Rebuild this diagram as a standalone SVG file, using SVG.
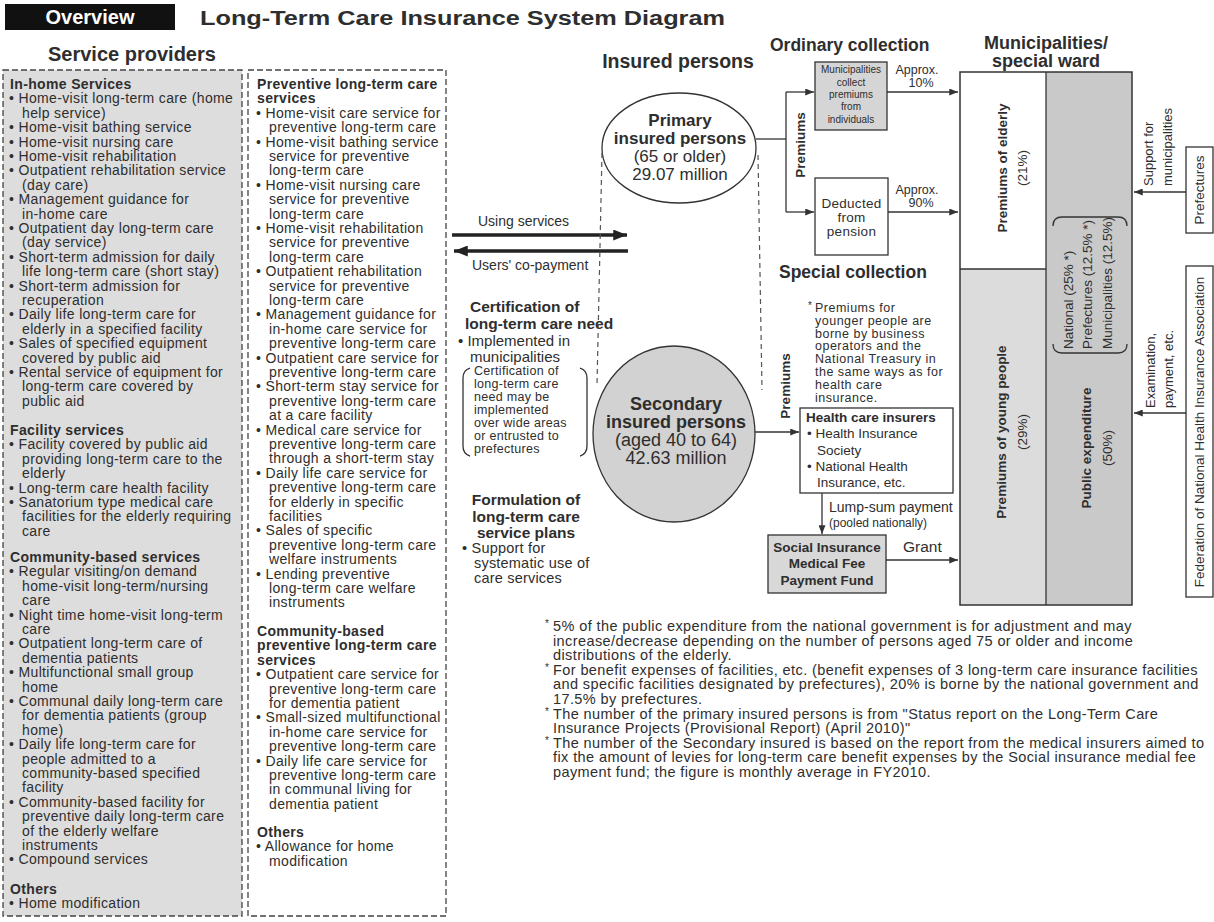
<svg xmlns="http://www.w3.org/2000/svg" width="1214" height="922" viewBox="0 0 1214 922">
<style>
text{font-family:"Liberation Sans",Arial,Helvetica,sans-serif;fill:#2e2e2e}
.b{font-weight:bold}
.f10{font-size:10px}.f12{font-size:12px}.f125{font-size:12.5px}.f13{font-size:13px}.f135{font-size:13.5px}.f14{font-size:14px}.f15{font-size:15px}.f155{font-size:15.5px}.f17{font-size:17px}.f175{font-size:17.5px}.f18{font-size:18px}.f20{font-size:20px}
.lst{font-size:14px;letter-spacing:0.35px}
.fn{font-size:14.5px;letter-spacing:0.4px}
.m{text-anchor:middle}
.ln{stroke:#333;stroke-width:1.3;fill:none}
.arr{stroke:#333;stroke-width:1.3;fill:none;marker-end:url(#ah)}
.thick{stroke:#222;stroke-width:3.5;fill:none;marker-end:url(#ahb)}
.dbox{stroke:#444;stroke-width:1.3;stroke-dasharray:6 3}
.dl{stroke:#555;stroke-width:1.2;stroke-dasharray:5 4;fill:none}
.box{stroke:#333;stroke-width:1.3}
</style>
<defs>
<marker id="ah" viewBox="0 0 10 8" refX="10" refY="4" markerWidth="9" markerHeight="7" markerUnits="userSpaceOnUse" orient="auto"><path d="M0,0 L10,4 L0,8 z" fill="#333"/></marker>
<marker id="ahb" viewBox="0 0 10 8" refX="10" refY="4" markerWidth="15" markerHeight="11" markerUnits="userSpaceOnUse" orient="auto"><path d="M0,0 L10,4 L0,8 z" fill="#222"/></marker>
</defs>
<rect width="1214" height="922" fill="#fff"/>

<g id="header">
<rect x="5" y="4" width="170" height="26" fill="#111"/>
<text x="90" y="24" class="b f20 m" style="fill:#fff">Overview</text>
<text x="200" y="25" class="b f20" textLength="525" lengthAdjust="spacingAndGlyphs">Long-Term Care Insurance System Diagram</text>
<text x="48" y="61" class="b f20">Service providers</text>
</g>

<g id="providers-main">
<rect x="3" y="70" width="239" height="846" fill="#dddddd" class="dbox"/>
<text class="lst">
<tspan x="10" y="89" class="b">In-home Services</tspan>
<tspan x="9" y="103.4">• Home-visit long-term care (home</tspan>
<tspan x="22" y="117.8">help service)</tspan>
<tspan x="9" y="132.2">• Home-visit bathing service</tspan>
<tspan x="9" y="146.6">• Home-visit nursing care</tspan>
<tspan x="9" y="161">• Home-visit rehabilitation</tspan>
<tspan x="9" y="175.4">• Outpatient rehabilitation service</tspan>
<tspan x="22" y="189.8">(day care)</tspan>
<tspan x="9" y="204.2">• Management guidance for</tspan>
<tspan x="22" y="218.6">in-home care</tspan>
<tspan x="9" y="233">• Outpatient day long-term care</tspan>
<tspan x="22" y="247.4">(day service)</tspan>
<tspan x="9" y="261.8">• Short-term admission for daily</tspan>
<tspan x="22" y="276.2">life long-term care (short stay)</tspan>
<tspan x="9" y="290.6">• Short-term admission for</tspan>
<tspan x="22" y="305">recuperation</tspan>
<tspan x="9" y="319.4">• Daily life long-term care for</tspan>
<tspan x="22" y="333.8">elderly in a specified facility</tspan>
<tspan x="9" y="348.2">• Sales of specified equipment</tspan>
<tspan x="22" y="362.6">covered by public aid</tspan>
<tspan x="9" y="377">• Rental service of equipment for</tspan>
<tspan x="22" y="391.4">long-term care covered by</tspan>
<tspan x="22" y="405.8">public aid</tspan>
<tspan x="10" y="435" class="b">Facility services</tspan>
<tspan x="9" y="449.4">• Facility covered by public aid</tspan>
<tspan x="22" y="463.8">providing long-term care to the</tspan>
<tspan x="22" y="478.2">elderly</tspan>
<tspan x="9" y="492.6">• Long-term care health facility</tspan>
<tspan x="9" y="507">• Sanatorium type medical care</tspan>
<tspan x="22" y="521.4">facilities for the elderly requiring</tspan>
<tspan x="22" y="535.8">care</tspan>
<tspan x="10" y="562" class="b">Community-based services</tspan>
<tspan x="9" y="576.4">• Regular visiting/on demand</tspan>
<tspan x="22" y="590.8">home-visit long-term/nursing</tspan>
<tspan x="22" y="605.2">care</tspan>
<tspan x="9" y="619.6">• Night time home-visit long-term</tspan>
<tspan x="22" y="634">care</tspan>
<tspan x="9" y="648.4">• Outpatient long-term care of</tspan>
<tspan x="22" y="662.8">dementia patients</tspan>
<tspan x="9" y="677.2">• Multifunctional small group</tspan>
<tspan x="22" y="691.6">home</tspan>
<tspan x="9" y="706">• Communal daily long-term care</tspan>
<tspan x="22" y="720.4">for dementia patients (group</tspan>
<tspan x="22" y="734.8">home)</tspan>
<tspan x="9" y="749.2">• Daily life long-term care for</tspan>
<tspan x="22" y="763.6">people admitted to a</tspan>
<tspan x="22" y="778">community-based specified</tspan>
<tspan x="22" y="792.4">facility</tspan>
<tspan x="9" y="806.8">• Community-based facility for</tspan>
<tspan x="22" y="821.2">preventive daily long-term care</tspan>
<tspan x="22" y="835.6">of the elderly welfare</tspan>
<tspan x="22" y="850">instruments</tspan>
<tspan x="9" y="864.4">• Compound services</tspan>
<tspan x="10" y="894" class="b">Others</tspan>
<tspan x="9" y="908.4">• Home modification</tspan>
</text>
</g>

<g id="providers-preventive">
<rect x="248" y="70" width="198" height="846" fill="#fff" class="dbox"/>
<text class="lst">
<tspan x="257" y="89" class="b">Preventive long-term care</tspan>
<tspan x="257" y="103.4" class="b">services</tspan>
<tspan x="256" y="117.8">• Home-visit care service for</tspan>
<tspan x="269" y="132.2">preventive long-term care</tspan>
<tspan x="256" y="146.6">• Home-visit bathing service</tspan>
<tspan x="269" y="161">service for preventive</tspan>
<tspan x="269" y="175.4">long-term care</tspan>
<tspan x="256" y="189.8">• Home-visit nursing care</tspan>
<tspan x="269" y="204.2">service for preventive</tspan>
<tspan x="269" y="218.6">long-term care</tspan>
<tspan x="256" y="233">• Home-visit rehabilitation</tspan>
<tspan x="269" y="247.4">service for preventive</tspan>
<tspan x="269" y="261.8">long-term care</tspan>
<tspan x="256" y="276.2">• Outpatient rehabilitation</tspan>
<tspan x="269" y="290.6">service for preventive</tspan>
<tspan x="269" y="305">long-term care</tspan>
<tspan x="256" y="319.4">• Management guidance for</tspan>
<tspan x="269" y="333.8">in-home care service for</tspan>
<tspan x="269" y="348.2">preventive long-term care</tspan>
<tspan x="256" y="362.6">• Outpatient care service for</tspan>
<tspan x="269" y="377">preventive long-term care</tspan>
<tspan x="256" y="391.4">• Short-term stay service for</tspan>
<tspan x="269" y="405.8">preventive long-term care</tspan>
<tspan x="269" y="420.2">at a care facility</tspan>
<tspan x="256" y="434.6">• Medical care service for</tspan>
<tspan x="269" y="449">preventive long-term care</tspan>
<tspan x="269" y="463.4">through a short-term stay</tspan>
<tspan x="256" y="477.8">• Daily life care service for</tspan>
<tspan x="269" y="492.2">preventive long-term care</tspan>
<tspan x="269" y="506.6">for elderly in specific</tspan>
<tspan x="269" y="521">facilities</tspan>
<tspan x="256" y="535.4">• Sales of specific</tspan>
<tspan x="269" y="549.8">preventive long-term care</tspan>
<tspan x="269" y="564.2">welfare instruments</tspan>
<tspan x="256" y="578.6">• Lending preventive</tspan>
<tspan x="269" y="593">long-term care welfare</tspan>
<tspan x="269" y="607.4">instruments</tspan>
<tspan x="257" y="636" class="b">Community-based</tspan>
<tspan x="257" y="650.4" class="b">preventive long-term care</tspan>
<tspan x="257" y="664.8" class="b">services</tspan>
<tspan x="256" y="679.2">• Outpatient care service for</tspan>
<tspan x="269" y="693.6">preventive long-term care</tspan>
<tspan x="269" y="708">for dementia patient</tspan>
<tspan x="256" y="722.4">• Small-sized multifunctional</tspan>
<tspan x="269" y="736.8">in-home care service for</tspan>
<tspan x="269" y="751.2">preventive long-term care</tspan>
<tspan x="256" y="765.6">• Daily life care service for</tspan>
<tspan x="269" y="780">preventive long-term care</tspan>
<tspan x="269" y="794.4">in communal living for</tspan>
<tspan x="269" y="808.8">dementia patient</tspan>
<tspan x="257" y="837" class="b">Others</tspan>
<tspan x="256" y="851.4">• Allowance for home</tspan>
<tspan x="269" y="865.8">modification</tspan>
</text>
</g>

<g id="service-flow">
<text x="478" y="226" class="f14">Using services</text>
<text x="472" y="270" class="f14">Users' co-payment</text>
</g>

<g id="certification">
<text class="b f155"><tspan x="470" y="312">Certification of</tspan><tspan x="465" y="329">long-term care need</tspan></text>
<text class="f15"><tspan x="458" y="346">• Implemented in</tspan><tspan x="470" y="362">municipalities</tspan></text>
<path class="ln" d="M470,368 Q463,370 463,378 L463,446 Q463,454 470,456"/>
<path class="ln" d="M580,368 Q587,370 587,378 L587,446 Q587,454 580,456"/>
<text class="f125" style="letter-spacing:0.3px"><tspan x="474" y="375">Certification of</tspan><tspan x="474" y="388">long-term care</tspan><tspan x="474" y="401">need may be</tspan><tspan x="474" y="414">implemented</tspan><tspan x="474" y="427">over wide areas</tspan><tspan x="474" y="440">or entrusted to</tspan><tspan x="474" y="453">prefectures</tspan></text>
</g>

<g id="plans">
<text class="b f155 m"><tspan x="526" y="505">Formulation of</tspan><tspan x="526" y="522">long-term care</tspan><tspan x="526" y="538">service plans</tspan></text>
<text style="font-size:14.5px;letter-spacing:0.2px"><tspan x="462" y="553">• Support for</tspan><tspan x="474" y="568">systematic use of</tspan><tspan x="474" y="583">care services</tspan></text>
</g>

<g id="insured-title">
<text x="678" y="68" class="b m" style="font-size:19.5px">Insured persons</text>
</g>

<g id="primary">
<ellipse cx="679" cy="148" rx="77" ry="55" fill="#fff" class="box"/>
<text class="m f17"><tspan x="680" y="126" class="b">Primary</tspan><tspan x="680" y="143.5" class="b">insured persons</tspan><tspan x="680" y="162">(65 or older)</tspan><tspan x="680" y="179.5">29.07 million</tspan></text>
</g>

<g id="secondary">
<ellipse cx="674" cy="434" rx="81" ry="88" fill="#d2d2d2" class="box"/>
<text class="m f18"><tspan x="676" y="410" class="b">Secondary</tspan><tspan x="676" y="428" class="b">insured persons</tspan><tspan x="676" y="446">(aged 40 to 64)</tspan><tspan x="676" y="464">42.63 million</tspan></text>
</g>

<g id="ordinary-collection">
<text x="770" y="51" class="b f175">Ordinary collection</text>
<text transform="translate(805,145) rotate(-90)" class="b f135 m">Premiums</text>
<rect x="815" y="62" width="72" height="68" fill="#d5d5d5" class="box"/>
<text class="f10 m"><tspan x="851" y="73">Municipalities</tspan><tspan x="851" y="86">collect</tspan><tspan x="851" y="98">premiums</tspan><tspan x="851" y="110">from</tspan><tspan x="851" y="123">individuals</tspan></text>
<text class="f125 m"><tspan x="917" y="74">Approx.</tspan><tspan x="921" y="87">10%</tspan></text>
<rect x="815" y="178" width="73" height="77" fill="#fff" class="box"/>
<text class="f135 m" style="letter-spacing:0.3px"><tspan x="851.5" y="208">Deducted</tspan><tspan x="851.5" y="222">from</tspan><tspan x="851.5" y="236">pension</tspan></text>
<text class="f125 m"><tspan x="917" y="194">Approx.</tspan><tspan x="921" y="207">90%</tspan></text>
</g>

<g id="special-collection">
<text x="779" y="278" class="b f175">Special collection</text>
<text x="808" y="309" class="f10">*</text>
<text class="f125" style="letter-spacing:0.5px"><tspan x="815" y="312">Premiums for</tspan><tspan x="815" y="324.8">younger people are</tspan><tspan x="815" y="337.6">borne by business</tspan><tspan x="815" y="350.4">operators and the</tspan><tspan x="815" y="363.2">National Treasury in</tspan><tspan x="815" y="376">the same ways as for</tspan><tspan x="815" y="388.8">health care</tspan><tspan x="815" y="401.6">insurance.</tspan></text>
<text transform="translate(790,386) rotate(-90)" class="b f135 m">Premiums</text>
</g>

<g id="health-insurers">
<rect x="800" y="408" width="153" height="85" fill="#fff" class="box"/>
<text class="f135"><tspan x="806" y="422" class="b">Health care insurers</tspan><tspan x="807" y="438">• Health Insurance</tspan><tspan x="817" y="455">Society</tspan><tspan x="807" y="471">• National Health</tspan><tspan x="817" y="487">Insurance, etc.</tspan></text>
<text x="829" y="512" class="f14">Lump-sum payment</text>
<text x="829" y="527" class="f12">(pooled nationally)</text>
</g>

<g id="payment-fund">
<rect x="768" y="535" width="118" height="58" fill="#d8d8d8" class="box"/>
<text class="b f135 m"><tspan x="827" y="552">Social Insurance</tspan><tspan x="827" y="568">Medical Fee</tspan><tspan x="827" y="585">Payment Fund</tspan></text>
<text x="903" y="552" style="font-size:15.5px">Grant</text>
</g>

<g id="municipalities">
<text class="b m f18"><tspan x="1046" y="49">Municipalities/</tspan><tspan x="1046" y="67">special ward</tspan></text>
<rect x="960" y="72" width="86" height="197" fill="#fff"/>
<rect x="960" y="269" width="86" height="336" fill="#dcdcdc"/>
<rect x="1046" y="72" width="86" height="533" fill="#c9c9c9"/>
<rect x="960" y="72" width="172" height="533" fill="none" stroke="#333" stroke-width="1.5"/>
<line x1="1046" y1="72" x2="1046" y2="605" stroke="#333" stroke-width="1.3"/>
<line x1="960" y1="269" x2="1046" y2="269" stroke="#333" stroke-width="1.3"/>
<text transform="translate(1007,168) rotate(-90)" class="b f135 m">Premiums of elderly</text>
<text transform="translate(1027,168) rotate(-90)" class="f135 m">(21%)</text>
<text transform="translate(1006,432) rotate(-90)" class="b f135 m">Premiums of young people</text>
<text transform="translate(1027,432) rotate(-90)" class="f135 m">(29%)</text>
<text transform="translate(1091,448) rotate(-90)" class="b f135 m">Public expenditure</text>
<text transform="translate(1112,448) rotate(-90)" class="f135 m">(50%)</text>
<path class="ln" d="M1053,226 Q1053,217 1062,217 L1118,217 Q1127,217 1127,226"/>
<path class="ln" d="M1053,344 Q1053,353 1062,353 L1118,353 Q1127,353 1127,344"/>
<text transform="translate(1073,349) rotate(-90)" class="f135">National (25% *)</text>
<text transform="translate(1092,349) rotate(-90)" class="f135">Prefectures (12.5% *)</text>
<text transform="translate(1112,349) rotate(-90)" class="f135">Municipalities (12.5%)</text>
</g>

<g id="prefectures">
<rect x="1186" y="147" width="27" height="86" fill="#fff" class="box"/>
<text transform="translate(1204,190) rotate(-90)" class="f135 m">Prefectures</text>
<text transform="translate(1153,186) rotate(-90)" class="f13">Support for</text>
<text transform="translate(1172,186) rotate(-90)" class="f13">municipalities</text>
</g>

<g id="federation">
<rect x="1186" y="266" width="27" height="331" fill="#fff" class="box"/>
<text transform="translate(1204,432) rotate(-90)" class="f135 m">Federation of National Health Insurance Association</text>
<text transform="translate(1155,408) rotate(-90)" class="f13">Examination,</text>
<text transform="translate(1173,408) rotate(-90)" class="f13">payment, etc.</text>
</g>

<g id="connectors">
<line class="thick" x1="452" y1="235" x2="627" y2="235"/>
<line class="thick" x1="628" y1="251" x2="454" y2="251"/>
<line class="dl" x1="602" y1="153" x2="597" y2="385"/>
<line class="dl" x1="758" y1="155" x2="762" y2="390"/>
<polyline class="ln" points="756,139 786,139"/>
<line class="ln" x1="786" y1="92" x2="786" y2="212"/>
<line class="arr" x1="786" y1="92" x2="814" y2="92"/>
<line class="arr" x1="786" y1="212" x2="814" y2="212"/>
<line class="arr" x1="887" y1="92" x2="958" y2="92"/>
<line class="arr" x1="888" y1="212" x2="958" y2="212"/>
<line class="arr" x1="755" y1="432" x2="799" y2="432"/>
<line class="arr" x1="822" y1="493" x2="822" y2="534"/>
<line class="arr" x1="886" y1="560" x2="958" y2="560"/>
<line class="arr" x1="1186" y1="192" x2="1134" y2="192"/>
<line class="arr" x1="1186" y1="413" x2="1134" y2="413"/>
</g>

<g id="footnotes">
<text class="f10"><tspan x="545" y="627">*</tspan><tspan x="545" y="671">*</tspan><tspan x="545" y="715">*</tspan><tspan x="545" y="744">*</tspan></text>
<text class="fn">
<tspan x="553" y="631">5% of the public expenditure from the national government is for adjustment and may</tspan>
<tspan x="553" y="645.6">increase/decrease depending on the number of persons aged 75 or older and income</tspan>
<tspan x="553" y="660.2">distributions of the elderly.</tspan>
<tspan x="553" y="674.8">For benefit expenses of facilities, etc. (benefit expenses of 3 long-term care insurance facilities</tspan>
<tspan x="553" y="689.4">and specific facilities designated by prefectures), 20% is borne by the national government and</tspan>
<tspan x="553" y="704">17.5% by prefectures.</tspan>
<tspan x="553" y="718.6">The number of the primary insured persons is from "Status report on the Long-Term Care</tspan>
<tspan x="553" y="733.2">Insurance Projects (Provisional Report) (April 2010)"</tspan>
<tspan x="553" y="747.8">The number of the Secondary insured is based on the report from the medical insurers aimed to</tspan>
<tspan x="553" y="762.4">fix the amount of levies for long-term care benefit expenses by the Social insurance medial fee</tspan>
<tspan x="553" y="777">payment fund; the figure is monthly average in FY2010.</tspan>
</text>
</g>
</svg>
